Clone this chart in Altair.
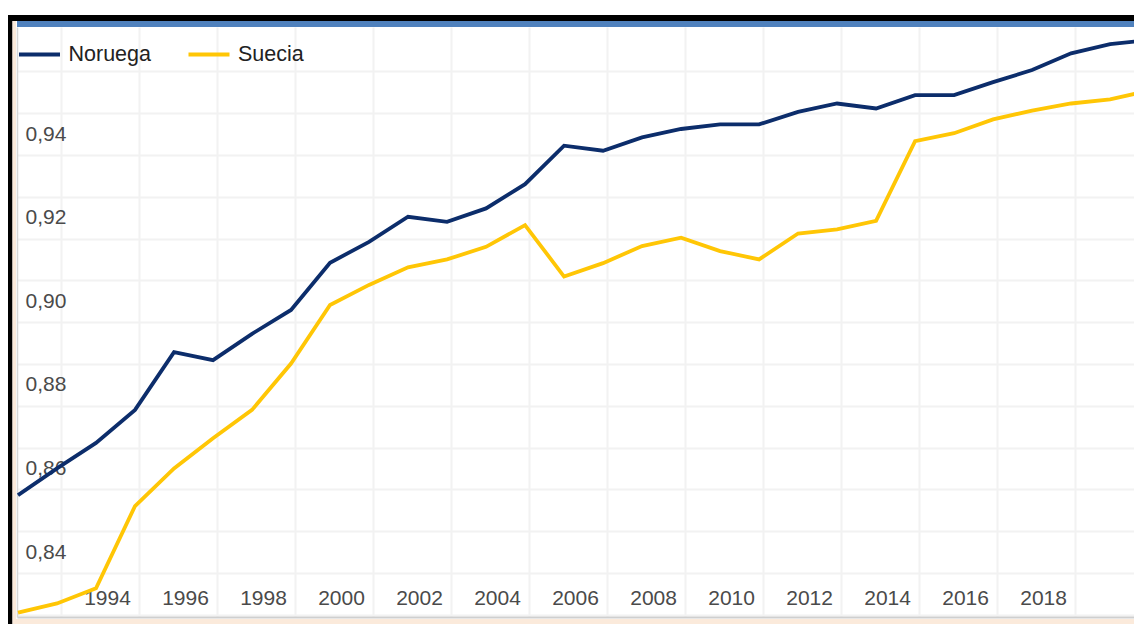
import altair as alt
import pandas as pd

years = list(range(1992, 2022))
noruega = [0.8536, 0.8600, 0.8661, 0.8740, 0.8878, 0.8859, 0.8922, 0.8979, 0.9092, 0.9142,
           0.9202, 0.9190, 0.9222, 0.9280, 0.9372, 0.9360, 0.9392, 0.9412, 0.9423, 0.9423,
           0.9453, 0.9473, 0.9461, 0.9493, 0.9493, 0.9524, 0.9553, 0.9593, 0.9615, 0.9625]
suecia = [0.8255, 0.8277, 0.8313, 0.8510, 0.8600, 0.8672, 0.8740, 0.8851, 0.8991, 0.9039,
          0.9081, 0.9100, 0.9130, 0.9182, 0.9059, 0.9091, 0.9132, 0.9152, 0.9120, 0.9100,
          0.9162, 0.9172, 0.9192, 0.9383, 0.9402, 0.9435, 0.9456, 0.9473, 0.9483, 0.9504]
series = ["Noruega", "Suecia"]
colors = ["#0c2d6b", "#ffc605"]

x_labels = [1994, 1996, 1998, 2000, 2002, 2004, 2006, 2008, 2010, 2012, 2014, 2016, 2018]
x_grid = [1994, 1996, 1998, 2000, 2002, 2004, 2006, 2008, 2010, 2012, 2014, 2016, 2018, 2020]
y_labels = ["0.84", "0.86", "0.88", "0.90", "0.92", "0.94"]
y_grid = [0.83, 0.84, 0.85, 0.86, 0.87, 0.88, 0.89, 0.90, 0.91, 0.92, 0.93, 0.94, 0.95, 0.96]

W, H = 1117, 590
FONT = "Liberation Sans"

rows = []
for name, vals in zip(series, [noruega, suecia]):
    for yr, v in zip(years, vals):
        rows.append({"year": yr, "value": v, "pais": name})
df = pd.DataFrame(rows)

x_expr = "indexof([" + ",".join(str(v) for v in x_labels) + "], datum.value) >= 0 ? toString(datum.value) : ''"
y_expr = ("indexof([" + ",".join("'" + s + "'" for s in y_labels) +
          "], format(datum.value, '.2f')) >= 0 ? replace(format(datum.value, '.2f'), '.', ',') : ''")

lines = alt.Chart(df).mark_line(strokeWidth=3.8, clip=True).encode(
    x=alt.X("year:Q",
            scale=alt.Scale(domain=[1991.974, 2020.613], nice=False, zero=False),
            axis=alt.Axis(values=x_grid, tickOffset=-35, labelOffset=46, labelExpr=x_expr,
                          ticks=False, grid=True, gridColor="#f2f2f2", gridWidth=2,
                          domain=True, domainColor="#cfcfcf", domainWidth=2,
                          labelPadding=-19, labelBaseline="middle", labelFontSize=21,
                          labelFont=FONT, labelColor="#4a4a4a", labelFlush=False,
                          labelOverlap=False, title=None)),
    y=alt.Y("value:Q",
            scale=alt.Scale(domain=[0.82445, 0.9656], nice=False, zero=False),
            axis=alt.Axis(values=y_grid, tickOffset=21, labelOffset=-21, labelExpr=y_expr,
                          ticks=False, grid=True, gridColor="#f2f2f2", gridWidth=2,
                          domain=True, domainColor="#d6d6d6", domainWidth=1.5,
                          labelAlign="left", labelPadding=-8, labelBaseline="middle",
                          labelFontSize=21, labelFont=FONT, labelColor="#4a4a4a",
                          labelFlush=False, labelOverlap=False, title=None)),
    color=alt.Color("pais:N", scale=alt.Scale(domain=series, range=colors),
                    legend=alt.Legend(orient="none", legendX=0, legendY=5,
                                      direction="horizontal", title=None,
                                      symbolType="stroke", symbolSize=1681,
                                      symbolStrokeWidth=3.8, labelFontSize=21.5,
                                      labelFont=FONT, labelColor="#222222",
                                      labelOffset=6.5, columnPadding=29.5, padding=0)),
)

one = alt.Data(values=[{"k": 1}])


def band(x0, x1, y0, y1, color):
    return alt.Chart(one).mark_rect(color=color).encode(
        x=alt.value(x0), x2=alt.value(x1), y=alt.value(y0), y2=alt.value(y1))


frame = [
    band(-9, W, -12, -6, "#000000"),
    band(0, W, -6, 0, "#4f81bd"),
    band(-9, -4.5, -12, H + 7, "#000000"),
    band(-4.5, -1, -6, H + 7, "#fbeadb"),
    band(-1, W, H + 2, H + 7, "#fbeadb"),
]

chart = alt.layer(*frame, lines).properties(
    width=W, height=H,
    autosize=alt.AutoSizeParams(type="none"),
    padding={"left": 9, "top": 19, "right": 0, "bottom": 7},
    background="white",
).configure_view(stroke=None)

chart.save("out.html", embed_options={"renderer": "svg", "actions": False})
